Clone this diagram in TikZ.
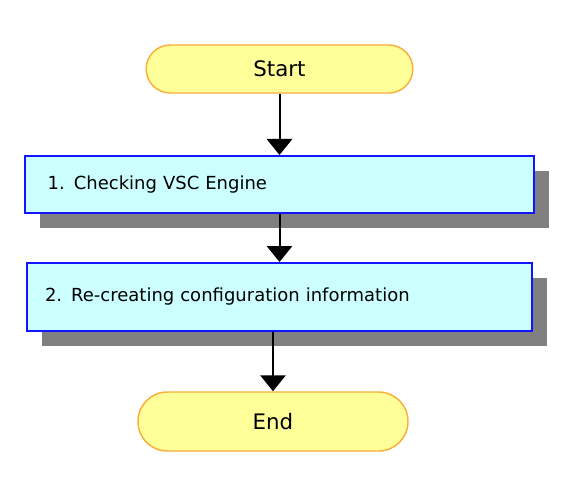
\documentclass[tikz,border=0pt]{standalone}
\usepackage{fontspec}
\setmainfont{DejaVu Sans}
\usepackage{tikz}
\usetikzlibrary{arrows.meta,shadows,positioning}
\definecolor{TermYellow}{RGB}{255,255,153}
\definecolor{TermOrange}{RGB}{250,175,60}
\definecolor{StepCyan}{RGB}{204,255,255}
\definecolor{StepBlue}{RGB}{20,20,255}
\definecolor{ShadowGray}{RGB}{128,128,128}

\begin{document}
\begin{tikzpicture}[x=0.75pt,y=-0.75pt,>=Latex,
    terminal/.style={draw=TermOrange,fill=TermYellow,line width=1.1pt,
      rounded corners=18pt,minimum width=200pt,minimum height=36pt,
      font=\fontsize{16}{19}\selectfont},
    stepbox/.style={draw=StepBlue,fill=StepCyan,line width=1.5pt,
      align=left,font=\fontsize{13.5}{16}\selectfont,
      drop shadow={shadow xshift=11.25pt,shadow yshift=-11.25pt,
        fill=ShadowGray,opacity=1}},
    flowarrow/.style={line width=1.5pt,-{Triangle[width=19pt,length=12pt]}}]
      \useasboundingbox (0,0) rectangle (563,477);
      \node[terminal] (start) at (279.5,69) {Start};
      \node[stepbox,text width=347.75pt,inner xsep=17pt,minimum height=42.75pt]
        (check) at (279.5,184.5) {1. Checking VSC Engine};
      \node[stepbox,text width=351.75pt,inner xsep=13.5pt,minimum height=51pt]
        (recreate) at (279.5,297) {2. Re-creating configuration information};
      \node[terminal,minimum width=202.5pt,minimum height=44.25pt,
        rounded corners=22pt] (end) at (273,421.5) {End};
      \draw[flowarrow] (start) -- (check);
      \draw[flowarrow] (check) -- (recreate);
      \draw[flowarrow] (end |- recreate.south) -- (end);
    \end{tikzpicture}
\end{document}
